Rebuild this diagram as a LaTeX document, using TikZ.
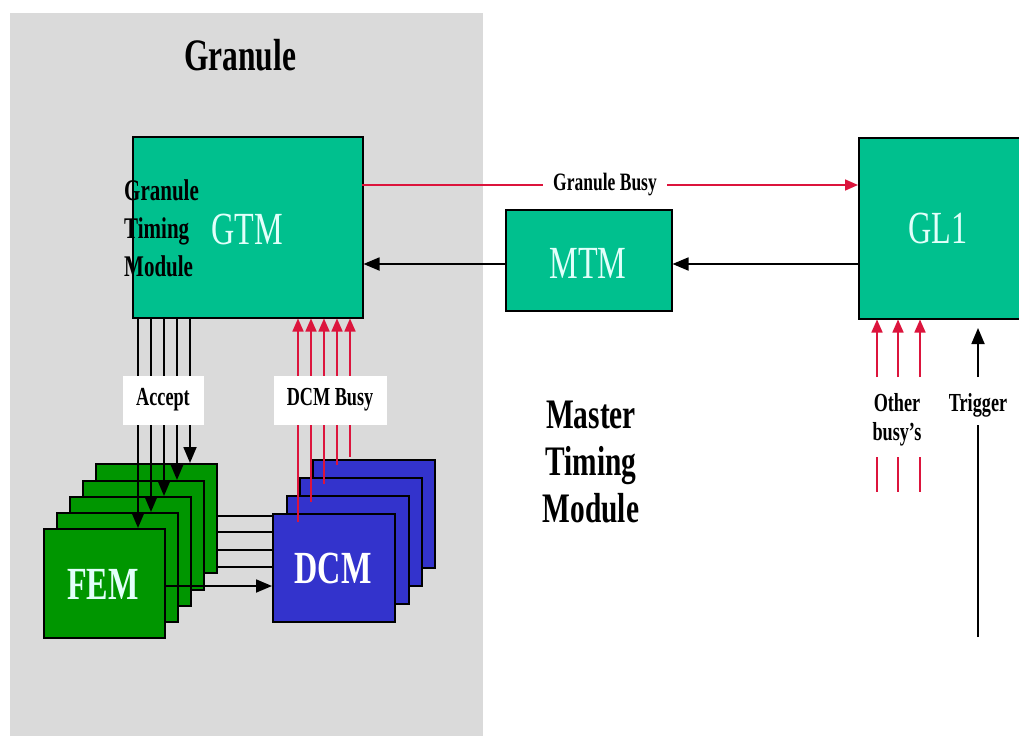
\documentclass[tikz,border=0pt]{standalone}
\usepackage{fontspec}
\usetikzlibrary{arrows.meta}
\newfontfamily\tf[FakeStretch=0.7]{Liberation Serif}
\definecolor{granulegray}{RGB}{218,218,218}
\definecolor{teal2}{RGB}{0,192,142}
\definecolor{femgreen}{RGB}{0,150,0}
\definecolor{dcmblue}{RGB}{51,51,204}
\definecolor{busyred}{RGB}{220,20,60}
\definecolor{lightcyan2}{RGB}{225,255,250}
\newcommand{\fs}[1]{\fontsize{#1}{#1}\selectfont}
\tikzset{
  box/.style={draw=black, line width=1.5pt, inner sep=0pt, anchor=north west},
  tealbox/.style={box, fill=teal2},
  fembox/.style={box, fill=femgreen, minimum width=121pt, minimum height=109pt},
  dcmbox/.style={box, fill=dcmblue, minimum width=122pt, minimum height=108pt},
  bigtext/.style={text=lightcyan2, font=\tf\fs{46}},
  blk/.style={draw=black, line width=1.8pt},
  blkarrow/.style={blk, -{Triangle[length=16pt,width=13pt]}},
  redarrow/.style={draw=busyred, line width=1.6pt, -{Triangle[length=13pt,width=11pt]}},
  redline/.style={draw=busyred, line width=1.6pt},
  lbl/.style={font=\tf\bfseries\fs{26}, text=black, inner sep=0pt},
  whitelbl/.style={fill=white, inner sep=0pt, font=\tf\bfseries\fs{26}}
}
\begin{document}
\begin{tikzpicture}[x=1pt, y=-1pt]
\useasboundingbox (0,0) rectangle (1019,736);
\fill[white] (0,0) rectangle (1019,736);
% granule region
\fill[granulegray] (10,13) rectangle (483,736);
\node[font=\tf\bfseries\fs{45}] (title) at (240,55) {Granule};

% main boxes
\node[tealbox, minimum width=230pt, minimum height=181pt] (gtm) at (132,136) {};
\node[bigtext] (gtmtext) at (247,229) {GTM};
\node[anchor=west, align=left, font=\tf\bfseries\fontsize{30}{38}\selectfont, inner sep=0pt] (gtmlabel) at (124,228)
  {Granule\\Timing\\Module};
\node[tealbox, minimum width=166pt, minimum height=101pt] (mtm) at (505,209) {};
\node[bigtext] (mtmtext) at (588,263) {MTM};
\node[tealbox, minimum width=164pt, minimum height=181pt] (gl1) at (858,137) {};
\node[bigtext] (gl1text) at (938,228) {GL1};

% horizontal connectors
\coordinate (gbs) at (362,185);
\coordinate (gbe) at (858,185);
\draw[redarrow] (gbs) -- (gbe);
\node[fill=white, inner xsep=10pt, inner ysep=3pt, font=\tf\bfseries\fs{25}] (gblabel) at (605,185) {Granule Busy};
\draw[blkarrow] (gl1.west |- 0,264) -- (mtm.east |- 0,264);
\draw[blkarrow] (mtm.west |- 0,264) -- (gtm.east |- 0,264);

\node[align=center, font=\tf\bfseries\fs{42}, inner sep=0pt] (mtmlabel) at (591,462)
  {Master\\[5pt]Timing\\[5pt]Module};

% FEM -> DCM lines (behind FEM stack)
\coordinate (d1) at (272,516);
\coordinate (d2) at (272,532);
\coordinate (d3) at (272,550);
\coordinate (d4) at (272,567);
\coordinate (d5) at (272,586);
\draw[blk] (200,516) -- (d1);
\draw[blk] (190,532) -- (d2);
\draw[blk] (180,550) -- (d3);
\draw[blk] (170,567) -- (d4);

% FEM stack
\node[fembox] (fem1) at (95,463) {};
\node[fembox] (fem2) at (82,480) {};
\node[fembox] (fem3) at (69,496) {};
\node[fembox] (fem4) at (56,512) {};
\node[fembox] (fem5) at (43,528) {};
\node[text=lightcyan2, font=\tf\bfseries\fs{46}] (femtext) at (103,584) {FEM};
\draw[blkarrow] (fem5.east |- 0,586) -- (d5);

% DCM stack
\node[dcmbox] (dcm1) at (312,459) {};
\node[dcmbox] (dcm2) at (299,477) {};
\node[dcmbox] (dcm3) at (286,495) {};
\node[dcmbox] (dcm4) at (272,513) {};
\node[text=white, font=\tf\bfseries\fs{46}] (dcmtext) at (333,568) {DCM};

% Accept lines
\foreach \x/\n in {190/fem1,177/fem2,164/fem3,151/fem4,138/fem5}{
  \draw[blkarrow] (gtm.south -| \x,0) -- (\n.north -| \x,0);
}
\node[whitelbl, minimum width=81pt, minimum height=49pt] (accept) at (163,400) {Accept};

% DCM busy lines
\draw[redarrow] (298,522) -- (gtm.south -| 298,0);
\draw[redarrow] (311,502) -- (gtm.south -| 311,0);
\draw[redarrow] (324,484) -- (gtm.south -| 324,0);
\draw[redarrow] (337,465) -- (gtm.south -| 337,0);
\draw[redarrow] (350,457) -- (gtm.south -| 350,0);
\node[whitelbl, minimum width=113pt, minimum height=49pt] (dcmbusy) at (330,400) {DCM Busy};

% other busy's
\foreach \x in {877,898,920}{
  \draw[redarrow] (\x,377) -- (gl1.south -| \x,0);
  \draw[redline] (\x,457) -- (\x,492);
}
\node[lbl, align=center] (other) at (897,420) {Other\\[3pt]busy’s};

% trigger
\coordinate (trigbot) at (978,637);
\coordinate (trigtop) at (978,425);
\draw[blk] (trigbot) -- (trigtop);
\draw[blkarrow] (978,377) -- (978,328);
\node[lbl] (trigger) at (978,405) {Trigger};
\end{tikzpicture}
\end{document}
